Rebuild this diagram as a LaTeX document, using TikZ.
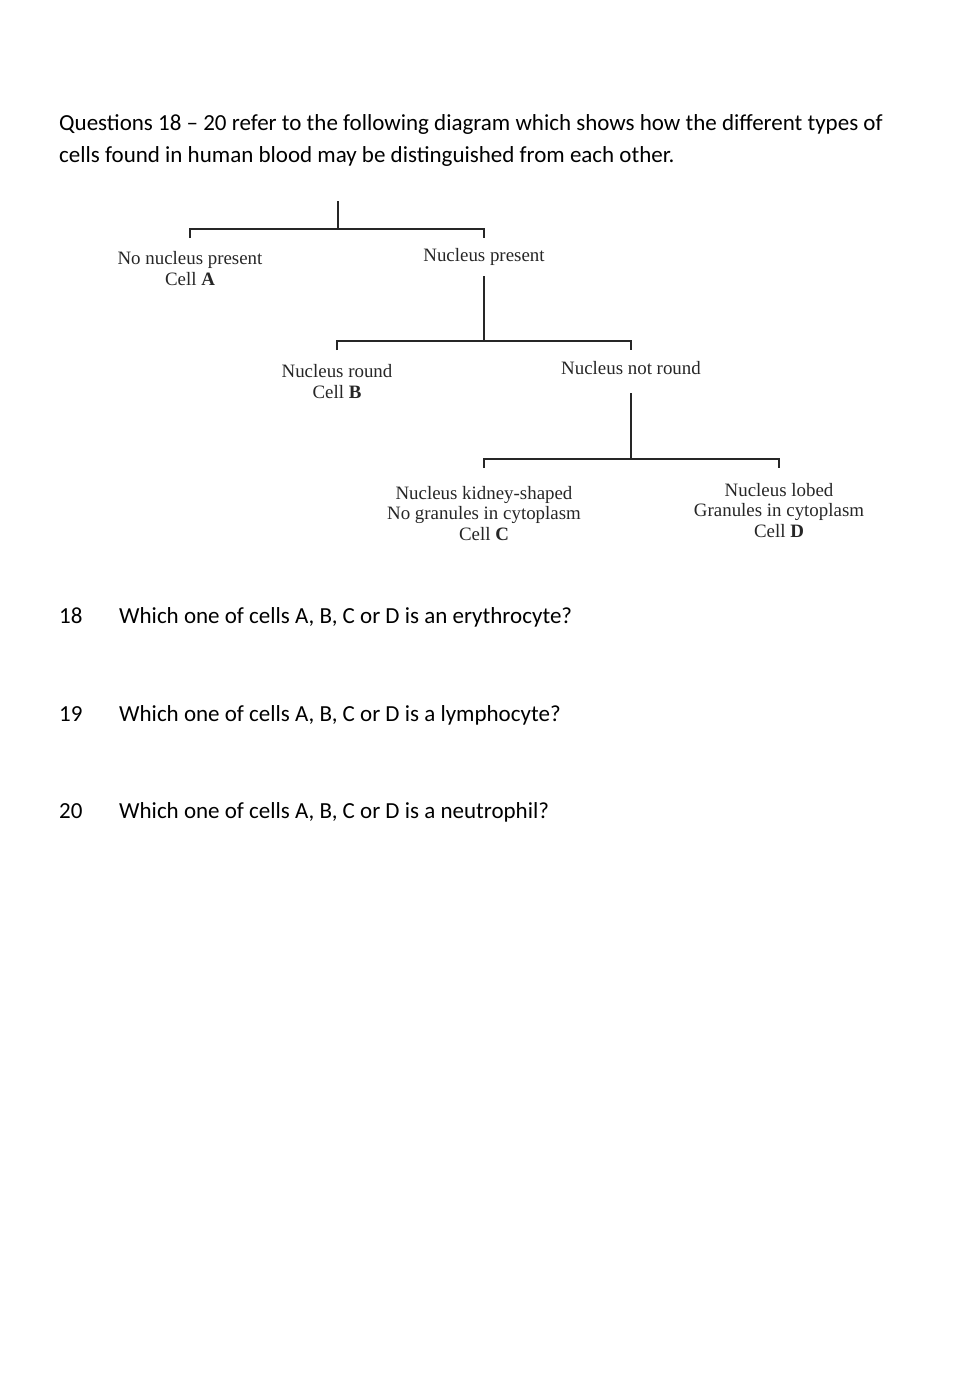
\documentclass[tikz,border=0pt]{standalone}
\usepackage{fontspec}
\setmainfont{Carlito}
\newfontfamily\keyfont{Liberation Serif}
\usetikzlibrary{positioning}
\tikzset{
  keytext/.style={font=\keyfont\fontsize{18.9}{20.5}\selectfont, align=center, inner sep=0pt, anchor=base, text=black!85},
  branch/.style={line width=1.3pt, black!85},
  qtext/.style={font=\fontsize{23}{32}\selectfont, anchor=base west, inner sep=0pt}
}

\begin{document}
\begin{tikzpicture}[x=1pt,y=-1pt]
\useasboundingbox (0,0) rectangle (978,1383);
% heading
\node[qtext] (intro1) at (59,131) {Questions 18 -- 20 refer to the following diagram which shows how the different types of};
\node[qtext] (intro2) at (59,163) {cells found in human blood may be distinguished from each other.};
% key (base = last line)
\node[keytext] (nonuc) at (190,285) {No nucleus present\\Cell \textbf{A}};
\node[keytext] (nucpres) at (484,261) {Nucleus present};
\node[keytext] (round) at (337,398) {Nucleus round\\Cell \textbf{B}};
\node[keytext] (notround) at (631,374) {Nucleus not round};
\node[keytext] (kidney) at (484,540) {Nucleus kidney-shaped\\No granules in cytoplasm\\Cell \textbf{C}};
\node[keytext] (lobed) at (779,537) {Nucleus lobed\\Granules in cytoplasm\\Cell \textbf{D}};
\coordinate (root) at (338,201);
\draw[branch] (root) -- (root |- 0,229);
\draw[branch] (nonuc.north |- 0,238) -- (nonuc.north |- 0,229) -- (nucpres.north |- 0,229) -- (nucpres.north |- 0,238);
\draw[branch] (nucpres.south |- 0,276) -- (nucpres.south |- 0,341);
\draw[branch] (round.north |- 0,350) -- (round.north |- 0,341) -- (notround.north |- 0,341) -- (notround.north |- 0,350);
\draw[branch] (notround.south |- 0,393) -- (notround.south |- 0,459);
\draw[branch] (kidney.north |- 0,468) -- (kidney.north |- 0,459) -- (lobed.north |- 0,459) -- (lobed.north |- 0,468);
% questions
\foreach \n/\y/\q in {18/623/an erythrocyte, 19/721/a lymphocyte, 20/818/a neutrophil}
{
  \node[qtext] (num\n) at (59,\y) {\n};
  \node[qtext] (ask\n) at (119,\y) {Which one of cells A, B, C or D is \q?};
}
\end{tikzpicture}
\end{document}
